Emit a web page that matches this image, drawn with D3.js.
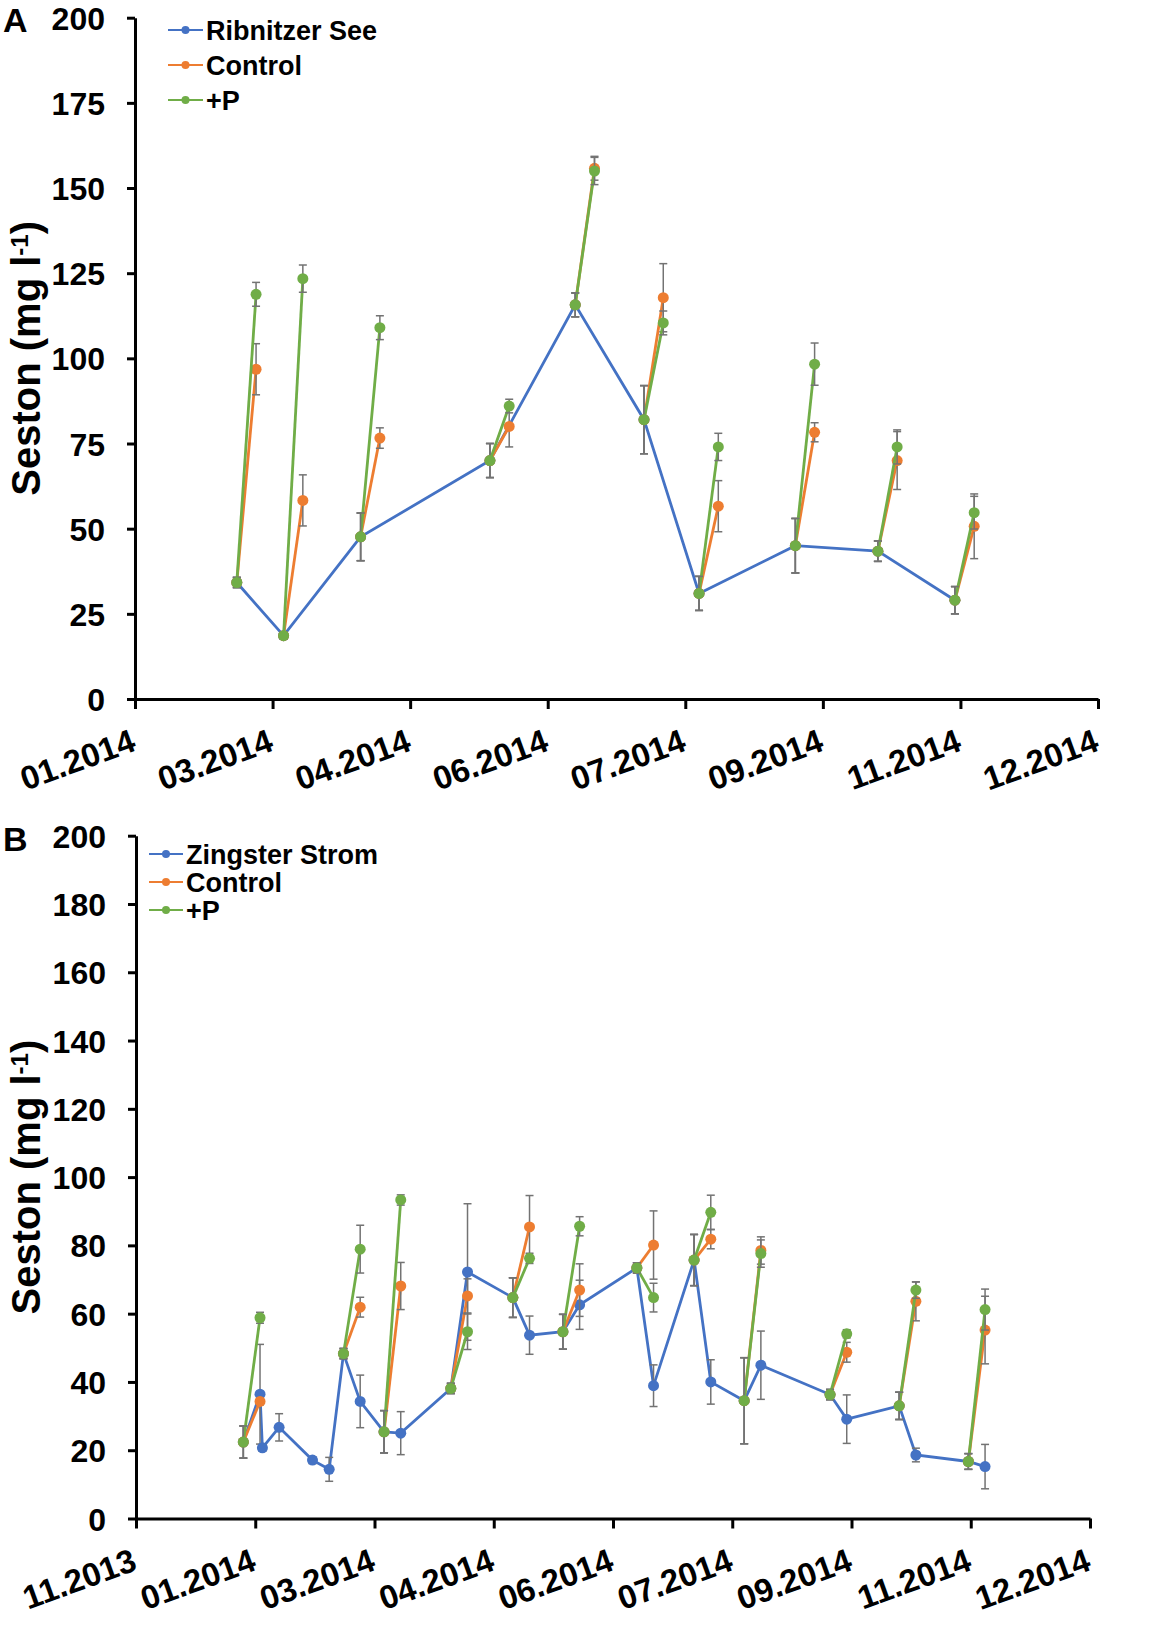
<!DOCTYPE html>
<html>
<head>
<meta charset="utf-8">
<script src="https://cdn.jsdelivr.net/npm/d3@7"></script>
<style>
  body { margin: 0; background: #fff; }
  text { font-family: "Liberation Sans", Arial, sans-serif; font-weight: bold; fill: #000; }
  .axis path, .axis line { stroke: #000; stroke-width: 3; }
  .err { stroke: #737373; stroke-width: 1.5; }
</style>
</head>
<body>
<div id="chart"></div>
<script>
// DATA - panel A (Ribnitzer See)
const datesA    = ['2014-02-17','2014-03-06','2014-04-03','2014-05-20','2014-06-20','2014-07-15','2014-08-04','2014-09-08','2014-10-08','2014-11-05']
const seeA      = [34.2, 18.6, 47.6, 70, 115.7, 82, 31, 45, 43.4, 29]
const seeErrA   = [1.5, 1, 7, 5, 3.5, 10, 5, 8, 3, 4]
const ctrlA     = [96.8, 58.3, 76.6, 80, 155.8, 117.8, 56.6, 78.3, 70, 50.7]
const ctrlErrA  = [7.5, 7.5, 3, 6, 3.5, 10, 7.5, 2.8, 8.5, 9.5]
const plusPA    = [118.8, 123.4, 109, 86, 155, 110.4, 74, 98.3, 74, 54.7]
const plusPErrA = [3.5, 4, 3.5, 2, 4, 3.5, 4, 6.2, 5, 4.8]

// DATA - panel B (Zingster Strom)
const datesB     = ['2014-01-06','2014-01-13','2014-01-14','2014-01-21','2014-02-04','2014-02-11','2014-02-17','2014-02-24',
                    '2014-03-06','2014-03-13','2014-04-03','2014-04-10','2014-04-29','2014-05-06','2014-05-20','2014-05-27',
                    '2014-06-20','2014-06-27','2014-07-14','2014-07-21','2014-08-04','2014-08-11','2014-09-09','2014-09-16',
                    '2014-10-08','2014-10-15','2014-11-06','2014-11-13']
const zingstB    = [22.4, 36.4, 20.7, 26.7, 17.1, 14.4, 48.3, 34.3, 25.4, 25, 38.1, 72.2, 64.7, 53.7, 54.7, 62.6,
                    73.4, 38.9, 75.7, 40, 34.5, 44.9, 36.3, 29.1, 33, 18.6, 16.7, 15.2]
const zingstErrB = [4.7, 14.6, 1, 4, 1, 3.5, 1.5, 7.7, 6.2, 6.3, 1.5, 20, 5.8, 5.6, 5.1, 7.2,
                    1.5, 6.1, 7.5, 6.5, 12.6, 10, 1.5, 7.1, 4, 2, 2.3, 6.5]
const expStartB  = ['2014-01-06','2014-02-17','2014-03-06','2014-04-03','2014-04-29','2014-05-20','2014-06-20','2014-07-14',
                    '2014-08-04','2014-09-09','2014-10-08','2014-11-06']
const ctrlB      = [34.3, 61.9, 68.1, 65.2, 85.4, 66.9, 80.1, 81.8, 78.5, 48.7, 63.6, 55.2]
const ctrlErrB   = [1, 2.9, 6.9, 5, 9.2, 7.7, 10, 2.8, 4, 2.9, 5.7, 9.9]
const plusPB     = [58.8, 78.9, 93.3, 54.7, 76.2, 85.6, 64.7, 89.7, 77.6, 54.1, 66.9, 61.2]
const plusPErrB  = [1.6, 7, 1.5, 5.2, 1.5, 2.8, 4.2, 5, 4, 1.2, 2.4, 6]

const INCUBATION_DAYS = 7

// AXES
const tickDatesA = ['2014-01-11','2014-03-02','2014-04-21','2014-06-10','2014-07-30','2014-09-18','2014-11-07','2014-12-27']
const tickDatesB = ['2013-11-22'].concat(tickDatesA)
const yTicksA = [0, 25, 50, 75, 100, 125, 150, 175, 200]
const yTicksB = [0, 20, 40, 60, 80, 100, 120, 140, 160, 180, 200]

const COLORS = { SITE: '#4472C4', CTRL: '#ED7D31', PLUSP: '#70AD47' }
const parse = d3.timeParse('%Y-%m-%d')
const fmt = d3.timeFormat('%m.%Y')

const svg = d3.select('#chart').append('svg')
  .attr('width', 1155)
  .attr('height', 1629)

//PANELS
const PANEL_A = { LEFT: 135, RIGHT: 1098, TOP: 17.7, BOTTOM: 699, LETTER: 'A', LETTER_Y: 32,
                  LEGEND: { X: 168, Y: [30, 65, 100], LINE: 35 } }
const PANEL_B = { LEFT: 136, RIGHT: 1090, TOP: 835.7, BOTTOM: 1518.5, LETTER: 'B', LETTER_Y: 851,
                  LEGEND: { X: 149, Y: [854, 882, 910], LINE: 34 } }

drawPanel(PANEL_A, {
  ticks: tickDatesA, yTicks: yTicksA, siteName: 'Ribnitzer See',
  site: { dates: datesA, values: seeA, err: seeErrA },
  starts: datesA, ctrl: ctrlA, ctrlErr: ctrlErrA, plusP: plusPA, plusPErr: plusPErrA
})
drawPanel(PANEL_B, {
  ticks: tickDatesB, yTicks: yTicksB, siteName: 'Zingster Strom',
  site: { dates: datesB, values: zingstB, err: zingstErrB },
  starts: expStartB, ctrl: ctrlB, ctrlErr: ctrlErrB, plusP: plusPB, plusPErr: plusPErrB
})

function drawPanel(P, D) {
  const ticks = D.ticks.map(parse)
  const x = d3.scaleTime().domain([ticks[0], ticks[ticks.length - 1]]).range([P.LEFT, P.RIGHT])
  const y = d3.scaleLinear().domain([0, 200]).range([P.BOTTOM, P.TOP])
  const g = svg.append('g')

  // axes
  g.append('g').attr('class', 'axis')
    .attr('transform', `translate(${P.LEFT},0)`)
    .call(d3.axisLeft(y).tickValues(D.yTicks).tickSize(8).tickSizeOuter(0).tickPadding(22))
    .call(a => a.selectAll('text').style('font-size', '32px').attr('dy', '0.36em'))
  g.append('g').attr('class', 'axis')
    .attr('transform', `translate(0,${P.BOTTOM})`)
    .call(d3.axisBottom(x).tickValues(ticks).tickFormat(fmt).tickSize(10).tickSizeOuter(0))
    .call(a => a.selectAll('text')
      .style('font-size', '33px')
      .style('text-anchor', 'end')
      .attr('x', 0).attr('y', 0).attr('dy', 0)
      .attr('transform', 'translate(2,51) rotate(-20)'))
  g.selectAll('.axis').attr('font-family', null).attr('font-size', null)

  // y title
  const title = g.append('text')
    .attr('transform', `translate(40,${(P.TOP + P.BOTTOM) / 2}) rotate(-90)`)
    .attr('text-anchor', 'middle')
    .style('font-size', '40px')
  title.append('tspan').text('Seston (mg l')
  title.append('tspan').text('-1').style('font-size', '24px').attr('dy', -12)
  title.append('tspan').text(')').attr('dy', 12)

  g.append('text').text(P.LETTER).attr('x', 3).attr('y', P.LETTER_Y).style('font-size', '34px')

  // series
  const site = D.site.dates.map((d, i) => ({ date: parse(d), v: D.site.values[i], e: D.site.err[i] }))
  const startVal = s => site.find(p => +p.date === +parse(s))
  const line = d3.line().x(p => x(p.date)).y(p => y(p.v))

  const expSeries = (vals, errs) => D.starts.map((s, i) => {
    const p0 = startVal(s)
    return [p0, { date: d3.timeDay.offset(p0.date, INCUBATION_DAYS), v: vals[i], e: errs[i] }]
  })
  const series = [
    { color: COLORS.SITE, segs: [site] },
    { color: COLORS.CTRL, segs: expSeries(D.ctrl, D.ctrlErr) },
    { color: COLORS.PLUSP, segs: expSeries(D.plusP, D.plusPErr) }
  ]

  series.forEach(S => {
    const sg = g.append('g')
    sg.selectAll('path.seg').data(S.segs).join('path')
      .attr('class', 'seg')
      .attr('d', line)
      .attr('fill', 'none')
      .attr('stroke', S.color)
      .attr('stroke-width', 2.8)
    const pts = S.segs.flat()
    const eb = sg.selectAll('g.eb').data(pts).join('g').attr('class', 'eb')
    eb.append('line').attr('class', 'err')
      .attr('x1', p => x(p.date)).attr('x2', p => x(p.date))
      .attr('y1', p => y(p.v - p.e)).attr('y2', p => y(p.v + p.e))
    eb.selectAll('line.cap').data(p => [p.v - p.e, p.v + p.e].map(v => ({ date: p.date, v }))).join('line')
      .attr('class', 'err cap')
      .attr('x1', p => x(p.date) - 4).attr('x2', p => x(p.date) + 4)
      .attr('y1', p => y(p.v)).attr('y2', p => y(p.v))
    sg.selectAll('circle').data(pts).join('circle')
      .attr('cx', p => x(p.date)).attr('cy', p => y(p.v))
      .attr('r', 5.5)
      .attr('fill', S.color)
  })

  // legend
  const names = [D.siteName, 'Control', '+P']
  const cols = [COLORS.SITE, COLORS.CTRL, COLORS.PLUSP]
  const L = P.LEGEND
  const lg = g.append('g').selectAll('g').data(names).join('g')
    .attr('transform', (d, i) => `translate(${L.X},${L.Y[i]})`)
  lg.append('line').attr('x1', 0).attr('x2', L.LINE).attr('y1', 0).attr('y2', 0)
    .attr('stroke', (d, i) => cols[i]).attr('stroke-width', 2.2)
  lg.append('circle').attr('cx', L.LINE / 2).attr('r', 4).attr('fill', (d, i) => cols[i])
  lg.append('text').text(d => d).attr('x', L.LINE + 3).attr('dy', '0.36em').style('font-size', '27px')
}
</script>
</body>
</html>
